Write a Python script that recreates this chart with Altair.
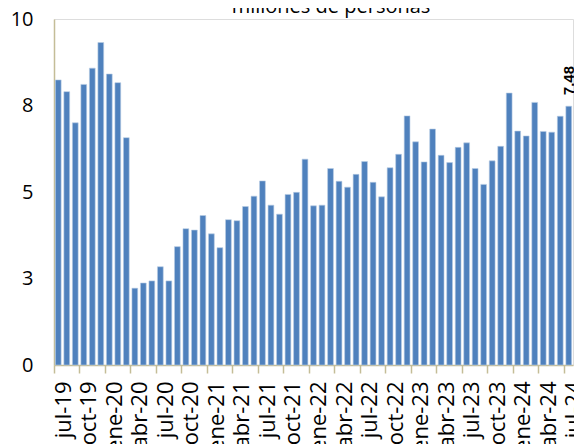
import altair as alt
import pandas as pd

# ---- data ----
month_abbr = ["ene", "feb", "mar", "abr", "may", "jun",
              "jul", "ago", "sep", "oct", "nov", "dic"]
start_month = 6   # jul
start_year = 19

values = [8.24, 7.90, 7.00, 8.11, 8.58, 9.32, 8.41, 8.16, 6.57,
          2.22, 2.37, 2.43, 2.84, 2.43, 3.42, 3.94, 3.90, 4.32,
          3.79, 3.39, 4.20, 4.17, 4.58, 4.88, 5.32, 4.62, 4.36,
          4.93, 4.99, 5.95, 4.60, 4.62, 5.68, 5.31, 5.14, 5.51,
          5.88, 5.28, 4.86, 5.70, 6.09, 7.20, 6.45, 5.87, 6.82,
          6.06, 5.85, 6.29, 6.42, 5.68, 5.22, 5.90, 6.32, 7.86,
          6.76, 6.62, 7.59, 6.75, 6.73, 7.19, 7.48]

y_ticks = [0, 2.5, 5, 7.5, 10]
title_text = "millones de personas"

periods = []
for i in range(len(values)):
    m = (start_month + i) % 12
    yr = start_year + (start_month + i) // 12
    periods.append(f"{month_abbr[m]}-{yr:02d}")
tick_periods = periods[::3]

df = pd.DataFrame({"periodo": periods, "valor": values})
df_last = df.tail(1)
df_title = pd.DataFrame({"t": [title_text]})

FONT = "Open Sans"
AXIS_COLOR = "#C4BD97"

x_enc = alt.X(
    "periodo:N",
    sort=periods,
    title=None,
    scale=alt.Scale(paddingInner=0, paddingOuter=0),
    axis=alt.Axis(
        values=tick_periods,
        bandPosition=0,
        labelAngle=270,
        labelOffset=5.5,
        labelPadding=8,
        labelFont=FONT,
        labelFontSize=22,
        labelColor="#000000",
        domainColor=AXIS_COLOR,
        domainWidth=1.5,
        tickColor=AXIS_COLOR,
        tickWidth=1.5,
        tickSize=8,
        grid=False,
    ),
)

y_enc = alt.Y(
    "valor:Q",
    title=None,
    scale=alt.Scale(domain=[0, 10], nice=False),
    axis=alt.Axis(
        values=y_ticks,
        format=".0f",
        labelFont=FONT,
        labelFontSize=20,
        labelColor="#000000",
        labelPadding=21,
        ticks=False,
        grid=False,
        domainColor=AXIS_COLOR,
        domainWidth=1.5,
    ),
)

bars = alt.Chart(df).mark_bar(
    width=alt.RelativeBandSize(0.68),
    color="#4F81BD",
    stroke="#B8CCE4",
    strokeWidth=0.6,
).encode(x=x_enc, y=y_enc)

last_label = alt.Chart(df_last).mark_text(
    angle=270,
    align="left",
    baseline="middle",
    dx=11,
    font="Liberation Sans",
    fontWeight="bold",
    fontSize=15,
    color="#000000",
).encode(
    x=alt.X("periodo:N", sort=periods),
    y=alt.Y("valor:Q"),
    text=alt.Text("valor:Q", format=".2f"),
)

title = alt.Chart(df_title).mark_text(
    font=FONT,
    fontSize=20,
    align="center",
    baseline="alphabetic",
    color="#000000",
).encode(text="t:N", x=alt.value(277), y=alt.value(-6))

chart = alt.layer(bars, last_label, title).properties(
    width=519,
    height=346,
    autosize=alt.AutoSizeParams(type="none"),
    padding={"left": 46, "top": 11, "right": 1, "bottom": 79},
).configure_view(stroke=None).configure(background="white")

chart.save("out.html", embed_options={"renderer": "svg", "actions": False})
